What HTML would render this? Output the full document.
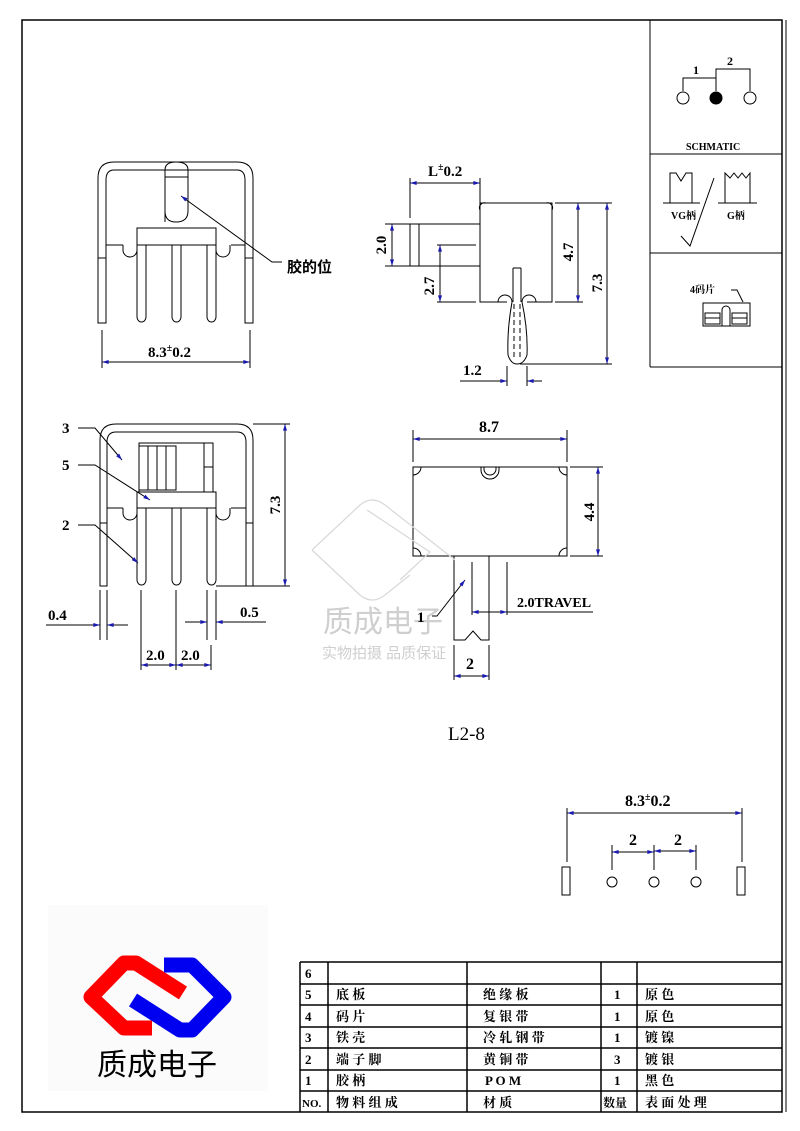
<!DOCTYPE html>
<html><head><meta charset="utf-8"><style>
html,body{margin:0;padding:0;background:#fff}
svg{display:block}
text{font-family:"Liberation Serif","Noto Serif CJK SC",serif;font-weight:bold;fill:#000}
.c{font-family:"Liberation Sans","Noto Sans CJK SC",sans-serif}
</style></head><body>
<svg width="800" height="1131" viewBox="0 0 800 1131" xmlns="http://www.w3.org/2000/svg">
<defs>
<marker id="a" viewBox="0 0 10 6" refX="10" refY="3" markerWidth="10" markerHeight="4" orient="auto-start-reverse" markerUnits="userSpaceOnUse"><path d="M0,0L10,3L0,6z" fill="#1a1ab0"/></marker>
</defs>
<rect width="800" height="1131" fill="#fff"/>
<g fill="none" stroke="#000" stroke-width="1">
<rect x="22" y="20" width="760" height="1092" stroke-width="1.5"/>
<line x1="786" y1="20" x2="786" y2="1112"/>
<line x1="650" y1="20" x2="650" y2="367"/>
<line x1="650" y1="154" x2="782" y2="154"/>
<line x1="650" y1="253" x2="782" y2="253"/>
<line x1="650" y1="367" x2="782" y2="367"/>
<circle cx="683" cy="98" r="6"/><circle cx="716" cy="98" r="6" fill="#000"/><circle cx="750" cy="98" r="6"/>
<polyline points="683,91 683,78 716,78 716,91"/>
<polyline points="716,78 716,69 750,69 750,91"/>
<polyline points="663,203 700,203"/><polyline points="670,203 670,173 676,173 681,181 686,173 692,173 692,203"/>
<polyline points="718,203 757,203"/><polyline points="725,203 725,173 730,178 734,173 738,178 742,173 746,178 750,173 750,203"/>
<polyline points="681,236 690,246 714,178"/>
<polyline points="731,290 737,290 743,302"/>
<rect x="703" y="303" width="47" height="23"/><path d="M722,326 V310 a4,4 0 0 1 8,0 V326"/>
<rect x="705" y="313" width="15" height="11"/><rect x="732" y="313" width="15" height="11"/>
<line x1="705" y1="318" x2="720" y2="318"/><line x1="732" y1="318" x2="747" y2="318"/>

<path d="M98,323 V178 Q98,162 114,162 H237 Q253,162 253,178 V323 H245 V180 Q245,170 237,170 H114 Q106,170 106,180 V323 Z"/>
<line x1="98" y1="258" x2="106" y2="258"/><line x1="245" y1="258" x2="253" y2="258"/>
<line x1="106" y1="245" x2="123" y2="245"/><line x1="231" y1="245" x2="245" y2="245"/>
<path d="M123,245 v5 a7,7 0 0 0 14,0 v-5"/><path d="M216,245 v5 a7,7 0 0 0 14,0 v-5"/>
<rect x="137" y="228" width="79" height="17"/>
<path d="M165,222 V170 Q165,162 176,162 Q188,162 188,170 V211 Q188,222 176,222 Q165,222 165,211"/>
<path d="M165,177 H188"/>
<path d="M137,245 V317 a4.5,5 0 0 0 9,0 V245"/><path d="M172,245 V317 a4.5,5 0 0 0 9,0 V245"/><path d="M207,245 V317 a4.5,5 0 0 0 9,0 V245"/>
<line x1="102" y1="330" x2="102" y2="368"/><line x1="250" y1="330" x2="250" y2="368"/>
<line x1="102" y1="362" x2="250" y2="362" marker-start="url(#a)" marker-end="url(#a)"/>
<polyline points="181,196 272,262 282,262" marker-start="url(#a)"/>

<path d="M480,203 H552 V302 H527 M507,302 H480 V203"/>
<path d="M498,302 a7,7 0 0 1 14,0 M522,302 a7,7 0 0 1 14,0"/>
<path d="M512,302 Q507,330 508,355 Q511,364 517,364 Q524,364 527,355 Q528,330 522,302"/>
<path d="M513,268 V302 M521,268 V302 M513,268 H521" />
<path d="M514,304 V360 M520,304 V360" stroke-dasharray="5,3"/>
<path d="M480,210 a5,5 0 0 1 6,-7 M552,210 a5,5 0 0 0 -6,-7"/>
<rect x="410" y="224" width="70" height="42"/><line x1="419" y1="224" x2="419" y2="266"/>
<line x1="437" y1="245" x2="476" y2="245"/>
<line x1="437" y1="302" x2="476" y2="302"/>
<line x1="440" y1="245" x2="440" y2="302" marker-start="url(#a)" marker-end="url(#a)"/>
<line x1="385" y1="224" x2="410" y2="224"/><line x1="385" y1="266" x2="410" y2="266"/>
<line x1="392" y1="224" x2="392" y2="266" marker-start="url(#a)" marker-end="url(#a)"/>
<line x1="410" y1="178" x2="410" y2="218"/><line x1="480" y1="178" x2="480" y2="203"/>
<line x1="410" y1="183" x2="480" y2="183" marker-start="url(#a)" marker-end="url(#a)"/>
<line x1="555" y1="203" x2="612" y2="203"/><line x1="555" y1="302" x2="583" y2="302"/>
<line x1="578" y1="203" x2="578" y2="302" marker-start="url(#a)" marker-end="url(#a)"/>
<line x1="520" y1="364" x2="612" y2="364"/>
<line x1="607" y1="203" x2="607" y2="364" marker-start="url(#a)" marker-end="url(#a)"/>
<line x1="507" y1="366" x2="507" y2="386"/><line x1="527" y1="366" x2="527" y2="386"/>
<line x1="460" y1="381" x2="507" y2="381" marker-end="url(#a)"/>
<line x1="542" y1="381" x2="527" y2="381" marker-end="url(#a)"/>

<path d="M100,586 V440 Q100,424 116,424 H237 Q253,424 253,440 V586 H246 V442 Q246,432 237,432 H116 Q107,432 107,442 V586 Z"/>
<line x1="100" y1="523" x2="107" y2="523"/><line x1="246" y1="523" x2="253" y2="523"/>
<line x1="107" y1="508" x2="123" y2="508"/><line x1="231" y1="508" x2="246" y2="508"/>
<path d="M123,508 v5 a7,7 0 0 0 14,0 v-5"/><path d="M216,508 v5 a7,7 0 0 0 14,0 v-5"/>
<rect x="137" y="492" width="79" height="16"/>
<rect x="139" y="443" width="74" height="49"/>
<rect x="139" y="446" width="37" height="44"/>
<line x1="148" y1="446" x2="148" y2="490"/><line x1="157" y1="446" x2="157" y2="490"/><line x1="166" y1="446" x2="166" y2="490"/>
<line x1="204" y1="443" x2="204" y2="492"/><line x1="204" y1="467" x2="213" y2="467"/>
<path d="M137,508 V580 a4.5,5 0 0 0 9,0 V508"/><path d="M172,508 V580 a4.5,5 0 0 0 9,0 V508"/><path d="M207,508 V580 a4.5,5 0 0 0 9,0 V508"/>
<line x1="216" y1="586" x2="290" y2="586"/><line x1="253" y1="424" x2="290" y2="424"/>
<line x1="285" y1="424" x2="285" y2="586" marker-start="url(#a)" marker-end="url(#a)"/>
<polyline points="78,428 95,428 122,460" marker-end="url(#a)"/>
<polyline points="78,465 95,465 150,500" marker-end="url(#a)"/>
<polyline points="78,525 95,525 138,563" marker-end="url(#a)"/>
<line x1="100" y1="590" x2="100" y2="640"/><line x1="107" y1="590" x2="107" y2="640"/>
<line x1="46" y1="625" x2="100" y2="625" marker-end="url(#a)"/><line x1="128" y1="625" x2="107" y2="625" marker-end="url(#a)"/>
<line x1="207" y1="590" x2="207" y2="640"/><line x1="216" y1="590" x2="216" y2="640"/>
<line x1="185" y1="622" x2="207" y2="622" marker-end="url(#a)"/><line x1="266" y1="622" x2="216" y2="622" marker-end="url(#a)"/>
<line x1="141" y1="590" x2="141" y2="670"/><line x1="176" y1="590" x2="176" y2="670"/><line x1="211" y1="645" x2="211" y2="670"/>
<line x1="141" y1="665" x2="176" y2="665" marker-start="url(#a)" marker-end="url(#a)"/>
<line x1="176" y1="665" x2="211" y2="665" marker-start="url(#a)" marker-end="url(#a)"/>

<rect x="413" y="467" width="154" height="89"/>
<path d="M413,475 a8,8 0 0 0 8,-8 M559,467 a8,8 0 0 0 8,8 M413,548 a8,8 0 0 1 8,8 M559,556 a8,8 0 0 1 8,-8"/>
<path d="M481,467 v3 a9,9 0 0 0 18,0 v-3 M484,467 v2 a6,6 0 0 0 12,0 v-2"/>
<line x1="413" y1="430" x2="413" y2="462"/><line x1="567" y1="430" x2="567" y2="462"/>
<line x1="413" y1="439" x2="567" y2="439" marker-start="url(#a)" marker-end="url(#a)"/>
<line x1="570" y1="467" x2="603" y2="467"/><line x1="570" y1="556" x2="603" y2="556"/>
<line x1="598" y1="467" x2="598" y2="556" marker-start="url(#a)" marker-end="url(#a)"/>
<polyline points="454,556 454,640 465,640 473,631 481,640 489,640 489,556"/>
<line x1="472" y1="562" x2="472" y2="615"/><line x1="507" y1="562" x2="507" y2="615"/>
<line x1="472" y1="612" x2="507" y2="612" marker-start="url(#a)" marker-end="url(#a)"/>
<line x1="507" y1="612" x2="593" y2="612"/>
<polyline points="432,616 437,616 465,580" marker-end="url(#a)"/>
<line x1="454" y1="645" x2="454" y2="680"/><line x1="489" y1="645" x2="489" y2="680"/>
<line x1="454" y1="676" x2="489" y2="676" marker-start="url(#a)" marker-end="url(#a)"/>

<line x1="567" y1="808" x2="567" y2="862"/><line x1="742" y1="808" x2="742" y2="862"/>
<line x1="567" y1="813" x2="742" y2="813" marker-start="url(#a)" marker-end="url(#a)"/>
<line x1="612" y1="845" x2="612" y2="870"/><line x1="654" y1="845" x2="654" y2="870"/><line x1="696" y1="845" x2="696" y2="870"/>
<line x1="612" y1="852" x2="654" y2="852" marker-start="url(#a)" marker-end="url(#a)"/>
<line x1="654" y1="851" x2="696" y2="851" marker-start="url(#a)" marker-end="url(#a)"/>
<circle cx="612" cy="882" r="5"/><circle cx="654" cy="882" r="5"/><circle cx="696" cy="882" r="5"/>
<rect x="562" y="867" width="8" height="28"/><rect x="737" y="867" width="8" height="28"/>

<g stroke-width="1.5">
<line x1="300" y1="962" x2="782" y2="962"/>
<line x1="300" y1="984" x2="782" y2="984"/>
<line x1="300" y1="1005" x2="782" y2="1005"/>
<line x1="300" y1="1027" x2="782" y2="1027"/>
<line x1="300" y1="1048" x2="782" y2="1048"/>
<line x1="300" y1="1070" x2="782" y2="1070"/>
<line x1="300" y1="1091" x2="782" y2="1091"/>
<line x1="300" y1="962" x2="300" y2="1112"/>
<line x1="328" y1="962" x2="328" y2="1112"/>
<line x1="467" y1="962" x2="467" y2="1112"/>
<line x1="601" y1="962" x2="601" y2="1112"/>
<line x1="637" y1="962" x2="637" y2="1112"/>
</g>
</g>

<g fill="none" stroke="#d8d8d8" stroke-width="1.2">
<path d="M312,550 L360,505 Q372,495 385,505 L455,560"/>
<path d="M312,550 L360,595 Q372,605 385,595 L410,575"/>
<path d="M367,510 L430,552 L400,580"/>
</g>
<text x="323" y="632" class="c" font-size="30" style="fill:#cfcfcf;font-weight:normal">质成电子</text>
<text x="322" y="658" class="c" font-size="15" style="fill:#cfcfcf;font-weight:normal">实物拍摄 品质保证</text>

<rect x="48" y="905" width="220" height="186" fill="#fbfbfb"/>
<g fill="none" stroke-width="15" stroke-linejoin="round" stroke-linecap="butt">
<polyline points="183,993 136,963 124,963 91,997 124,1028 152,1028" stroke="#f00"/>
<polyline points="133,1000 180,1030 192,1030 224,997 192,965 164,965" stroke="#0000f0"/>
</g>
<text x="157" y="1075" class="c" font-size="30" text-anchor="middle" style="font-weight:normal">质成电子</text>

<g font-size="15">
<text x="148" y="357">8.3<tspan font-size="10" dy="-6">±</tspan><tspan dy="6">0.2</tspan></text>
<text x="287" y="272" class="c" font-size="15">胶的位</text>
<text x="428" y="176">L<tspan font-size="10" dy="-6">±</tspan><tspan dy="6">0.2</tspan></text>
<text transform="translate(386,245) rotate(-90)" text-anchor="middle">2.0</text>
<text transform="translate(434,286) rotate(-90)" text-anchor="middle">2.7</text>
<text transform="translate(573,252) rotate(-90)" text-anchor="middle">4.7</text>
<text transform="translate(602,283) rotate(-90)" text-anchor="middle">7.3</text>
<text x="463" y="375">1.2</text>
<text x="62" y="433">3</text><text x="62" y="470">5</text><text x="62" y="530">2</text>
<text transform="translate(280,505) rotate(-90)" text-anchor="middle">7.3</text>
<text x="48" y="620">0.4</text><text x="240" y="617">0.5</text>
<text x="146" y="660">2.0</text><text x="181" y="660">2.0</text>
<text x="479" y="432" font-size="16">8.7</text>
<text transform="translate(594,512) rotate(-90)" text-anchor="middle">4.4</text>
<text x="517" y="607" font-size="14">2.0TRAVEL</text>
<text x="417" y="622">1</text>
<text x="466" y="669" font-size="16">2</text>
<text x="448" y="740" font-size="19" style="font-weight:normal">L2-8</text>
<text x="625" y="806" font-size="16">8.3<tspan font-size="10" dy="-6">±</tspan><tspan dy="6">0.2</tspan></text>
<text x="629" y="845" font-size="16">2</text><text x="674" y="845" font-size="16">2</text>
</g>
<g font-size="12">
<text x="693" y="74">1</text><text x="727" y="65">2</text>
<text x="686" y="150" font-size="10">SCHMATIC</text>
<text x="671" y="219" font-size="10">VG柄</text><text x="727" y="219" font-size="10">G柄</text>
<text x="690" y="293" font-size="10">4码片</text>
</g>
<g font-size="13">
<text x="305" y="978">6</text>
<text x="305" y="999">5</text><text x="336" y="999">底 板</text><text x="483" y="999">绝 缘 板</text><text x="614" y="999">1</text><text x="645" y="999">原 色</text>
<text x="305" y="1021">4</text><text x="336" y="1021">码 片</text><text x="483" y="1021">复 银 带</text><text x="614" y="1021">1</text><text x="645" y="1021">原 色</text>
<text x="305" y="1042">3</text><text x="336" y="1042">铁 壳</text><text x="483" y="1042">冷 轧 钢 带</text><text x="614" y="1042">1</text><text x="645" y="1042">镀 镍</text>
<text x="305" y="1064">2</text><text x="336" y="1064">端 子 脚</text><text x="483" y="1064">黄 铜 带</text><text x="614" y="1064">3</text><text x="645" y="1064">镀 银</text>
<text x="305" y="1085">1</text><text x="336" y="1085">胶 柄</text><text x="485" y="1085">P O M</text><text x="614" y="1085">1</text><text x="645" y="1085">黑 色</text>
<text x="302" y="1107" font-size="11">NO.</text><text x="336" y="1107">物 料 组 成</text><text x="483" y="1107">材 质</text><text x="603" y="1107" font-size="12">数量</text><text x="645" y="1107">表 面 处 理</text>
</g>
</svg>
</body></html>
